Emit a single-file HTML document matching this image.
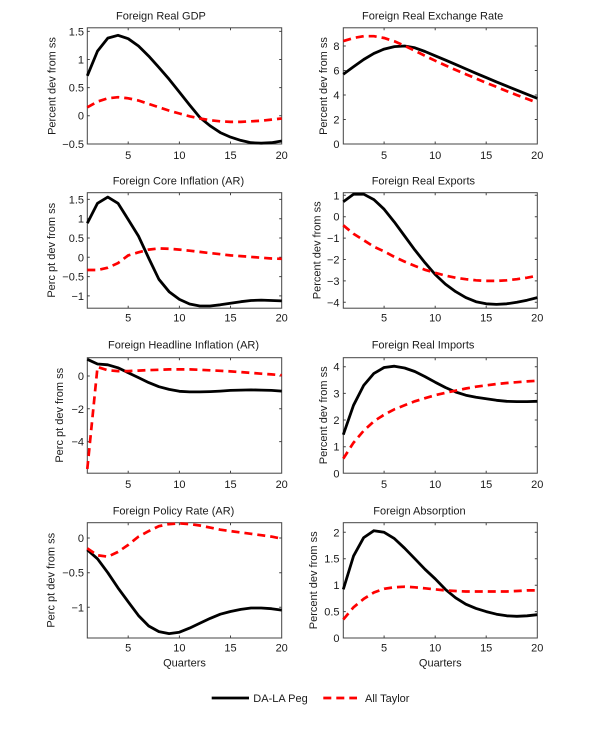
<!DOCTYPE html>
<html><head><meta charset="utf-8"><style>
html,body{margin:0;padding:0;background:#fff;}
svg{display:block;font-family:"Liberation Sans",Arial,sans-serif;}
</style></head><body>
<svg width="600" height="729" viewBox="0 0 600 729" xmlns="http://www.w3.org/2000/svg">
<rect width="600" height="729" fill="#fff"/>
<g font-size="11" fill="#1a1a1a">
<!-- Titles -->
<text x="116" y="19.5">Foreign Real GDP</text>
<text x="362" y="19.5">Foreign Real Exchange Rate</text>
<text x="112.7" y="184.7">Foreign Core Inflation (AR)</text>
<text x="371.7" y="184.7">Foreign Real Exports</text>
<text x="108" y="348.5">Foreign Headline Inflation (AR)</text>
<text x="371.7" y="348.5">Foreign Real Imports</text>
<text x="112.7" y="514.7">Foreign Policy Rate (AR)</text>
<text x="373.3" y="514.7">Foreign Absorption</text>
<!-- Y labels -->
<text transform="translate(55.5,86) rotate(-90)" text-anchor="middle">Percent dev from ss</text>
<text transform="translate(327,86) rotate(-90)" text-anchor="middle">Percent dev from ss</text>
<text transform="translate(55,250.3) rotate(-90)" text-anchor="middle">Perc pt dev from ss</text>
<text transform="translate(320.5,250.3) rotate(-90)" text-anchor="middle">Percent dev from ss</text>
<text transform="translate(63,415.3) rotate(-90)" text-anchor="middle">Perc pt dev from ss</text>
<text transform="translate(327,415.3) rotate(-90)" text-anchor="middle">Percent dev from ss</text>
<text transform="translate(54.5,580.3) rotate(-90)" text-anchor="middle">Perc pt dev from ss</text>
<text transform="translate(317,580.3) rotate(-90)" text-anchor="middle">Percent dev from ss</text>
<!-- Y tick labels -->
<g text-anchor="end">
<text x="84" y="147.8">−0.5</text><text x="84" y="119.7">0</text><text x="84" y="91.6">0.5</text><text x="84" y="63.5">1</text><text x="84" y="35.4">1.5</text>
<text x="339.5" y="148">0</text><text x="339.5" y="123.5">2</text><text x="339.5" y="99">4</text><text x="339.5" y="74.5">6</text><text x="339.5" y="50">8</text>
<text x="84" y="203.4">1.5</text><text x="84" y="222.7">1</text><text x="84" y="242">0.5</text><text x="84" y="261.3">0</text><text x="84" y="280.6">−0.5</text><text x="84" y="299.9">−1</text>
<text x="339.5" y="199.3">1</text><text x="339.5" y="220.7">0</text><text x="339.5" y="242.1">−1</text><text x="339.5" y="263.5">−2</text><text x="339.5" y="284.9">−3</text><text x="339.5" y="306.3">−4</text>
<text x="84" y="380">0</text><text x="84" y="412.8">−2</text><text x="84" y="445.6">−4</text>
<text x="339.5" y="477.3">0</text><text x="339.5" y="450.7">1</text><text x="339.5" y="424">2</text><text x="339.5" y="397.4">3</text><text x="339.5" y="370.7">4</text>
<text x="84" y="542">0</text><text x="84" y="576.7">−0.5</text><text x="84" y="611.3">−1</text>
<text x="339.5" y="642">0</text><text x="339.5" y="615.6">0.5</text><text x="339.5" y="589.2">1</text><text x="339.5" y="562.7">1.5</text><text x="339.5" y="536.3">2</text>
</g>
<!-- X tick labels -->
<g text-anchor="middle">
<text x="128.2" y="159">5</text><text x="179.4" y="159">10</text><text x="230.5" y="159">15</text><text x="281.7" y="159">20</text>
<text x="384.1" y="159">5</text><text x="435.2" y="159">10</text><text x="486.2" y="159">15</text><text x="537.3" y="159">20</text>
<text x="128.2" y="321.7">5</text><text x="179.4" y="321.7">10</text><text x="230.5" y="321.7">15</text><text x="281.7" y="321.7">20</text>
<text x="384.1" y="321.7">5</text><text x="435.2" y="321.7">10</text><text x="486.2" y="321.7">15</text><text x="537.3" y="321.7">20</text>
<text x="128.2" y="488">5</text><text x="179.4" y="488">10</text><text x="230.5" y="488">15</text><text x="281.7" y="488">20</text>
<text x="384.1" y="488">5</text><text x="435.2" y="488">10</text><text x="486.2" y="488">15</text><text x="537.3" y="488">20</text>
<text x="128.2" y="651.7">5</text><text x="179.4" y="651.7">10</text><text x="230.5" y="651.7">15</text><text x="281.7" y="651.7">20</text>
<text x="384.1" y="651.7">5</text><text x="435.2" y="651.7">10</text><text x="486.2" y="651.7">15</text><text x="537.3" y="651.7">20</text>
<text x="184.5" y="666.3">Quarters</text>
<text x="440.3" y="666.3">Quarters</text>
</g>
<!-- Legend text -->
<text x="253.3" y="702">DA-LA Peg</text>
<text x="365" y="702">All Taylor</text>
</g>

<!-- Axes boxes -->
<g fill="none" stroke="#444" stroke-width="1">
<rect x="87.3" y="27.8" width="194.4" height="116.2"/>
<rect x="343.3" y="27.8" width="194" height="116.2"/>
<rect x="87.3" y="192.7" width="194.4" height="115.5"/>
<rect x="343.3" y="192.7" width="194" height="115.5"/>
<rect x="87.3" y="357.7" width="194.4" height="115.5"/>
<rect x="343.3" y="357.7" width="194" height="115.5"/>
<rect x="87.3" y="522.7" width="194.4" height="115.3"/>
<rect x="343.3" y="522.7" width="194" height="115.3"/>
<!-- ticks -->
<path d="
M128.2 144v-2.5M179.4 144v-2.5M230.5 144v-2.5M128.2 27.8v2.5M179.4 27.8v2.5M230.5 27.8v2.5
M87.3 115.7h2.5M87.3 87.6h2.5M87.3 59.5h2.5M87.3 31.4h2.5M281.7 115.7h-2.5M281.7 87.6h-2.5M281.7 59.5h-2.5M281.7 31.4h-2.5
M384.1 144v-2.5M435.2 144v-2.5M486.2 144v-2.5M384.1 27.8v2.5M435.2 27.8v2.5M486.2 27.8v2.5
M343.3 119.5h2.5M343.3 95h2.5M343.3 70.5h2.5M343.3 46h2.5M537.3 119.5h-2.5M537.3 95h-2.5M537.3 70.5h-2.5M537.3 46h-2.5
M128.2 308.2v-2.5M179.4 308.2v-2.5M230.5 308.2v-2.5M128.2 192.7v2.5M179.4 192.7v2.5M230.5 192.7v2.5
M87.3 199.4h2.5M87.3 218.7h2.5M87.3 238h2.5M87.3 257.3h2.5M87.3 276.6h2.5M87.3 295.9h2.5
M281.7 199.4h-2.5M281.7 218.7h-2.5M281.7 238h-2.5M281.7 257.3h-2.5M281.7 276.6h-2.5M281.7 295.9h-2.5
M384.1 308.2v-2.5M435.2 308.2v-2.5M486.2 308.2v-2.5M384.1 192.7v2.5M435.2 192.7v2.5M486.2 192.7v2.5
M343.3 195.3h2.5M343.3 216.7h2.5M343.3 238.1h2.5M343.3 259.5h2.5M343.3 280.9h2.5M343.3 302.3h2.5
M537.3 195.3h-2.5M537.3 216.7h-2.5M537.3 238.1h-2.5M537.3 259.5h-2.5M537.3 280.9h-2.5M537.3 302.3h-2.5
M128.2 473.2v-2.5M179.4 473.2v-2.5M230.5 473.2v-2.5M128.2 357.7v2.5M179.4 357.7v2.5M230.5 357.7v2.5
M87.3 376h2.5M87.3 408.8h2.5M87.3 441.6h2.5M281.7 376h-2.5M281.7 408.8h-2.5M281.7 441.6h-2.5
M384.1 473.2v-2.5M435.2 473.2v-2.5M486.2 473.2v-2.5M384.1 357.7v2.5M435.2 357.7v2.5M486.2 357.7v2.5
M343.3 446.7h2.5M343.3 420h2.5M343.3 393.4h2.5M343.3 366.7h2.5M537.3 446.7h-2.5M537.3 420h-2.5M537.3 393.4h-2.5M537.3 366.7h-2.5
M128.2 638v-2.5M179.4 638v-2.5M230.5 638v-2.5M128.2 522.7v2.5M179.4 522.7v2.5M230.5 522.7v2.5
M87.3 538h2.5M87.3 572.7h2.5M87.3 607.3h2.5M281.7 538h-2.5M281.7 572.7h-2.5M281.7 607.3h-2.5
M384.1 638v-2.5M435.2 638v-2.5M486.2 638v-2.5M384.1 522.7v2.5M435.2 522.7v2.5M486.2 522.7v2.5
M343.3 611.6h2.5M343.3 585.2h2.5M343.3 558.7h2.5M343.3 532.3h2.5M537.3 611.6h-2.5M537.3 585.2h-2.5M537.3 558.7h-2.5M537.3 532.3h-2.5
"/>
</g>

<!-- Black series -->
<g fill="none" stroke="#000" stroke-width="2.8" stroke-linejoin="round">
<polyline points="87.3,75.8 97.5,51.1 107.8,38.1 118.0,35.3 128.2,38.7 138.5,46.0 148.7,56.1 158.9,67.4 169.1,79.2 179.4,92.1 189.6,105.0 199.8,117.4 210.1,125.8 220.3,132.6 230.5,137.1 240.8,140.4 251.0,142.7 261.2,143.2 271.5,142.7 281.7,141.0"/>
<polyline points="343.3,74.2 353.5,66.8 363.7,59.5 373.9,53.4 384.1,49.1 394.4,46.6 404.6,46.0 414.8,47.8 425.0,51.5 435.2,55.8 445.4,60.1 455.6,64.4 465.8,68.9 476.0,73.3 486.2,77.6 496.5,81.9 506.7,86.1 516.9,90.2 527.1,94.3 537.3,98.3"/>
<polyline points="87.3,223.3 97.5,203.3 107.8,197.1 118.0,203.3 128.2,219.5 138.5,236.1 148.7,258.1 158.9,279.3 169.1,291.7 179.4,299.4 189.6,304.0 199.8,306.0 210.1,306.0 220.3,304.8 230.5,303.2 240.8,301.7 251.0,300.5 261.2,300.1 271.5,300.5 281.7,300.9"/>
<polyline points="343.3,201.7 353.5,194.2 363.7,194.2 373.9,199.6 384.1,209.2 394.4,222.1 404.6,236.0 414.8,249.9 425.0,262.7 435.2,274.5 445.4,284.1 455.6,291.6 465.8,297.6 476.0,301.7 486.2,303.8 496.5,304.4 506.7,303.8 516.9,302.3 527.1,300.2 537.3,297.6"/>
<polyline points="87.3,359.3 97.5,364.0 107.8,364.8 118.0,367.8 128.2,372.7 138.5,377.6 148.7,382.6 158.9,386.7 169.1,389.4 179.4,391.3 189.6,391.9 199.8,391.9 210.1,391.6 220.3,391.1 230.5,390.4 240.8,390.1 251.0,389.9 261.2,390.1 271.5,390.4 281.7,391.1"/>
<polyline points="343.3,434.7 353.5,405.3 363.7,385.4 373.9,373.4 384.1,367.5 394.4,366.2 404.6,368.0 414.8,371.5 425.0,376.6 435.2,382.2 445.4,387.5 455.6,392.0 465.8,395.2 476.0,397.3 486.2,398.7 496.5,400.3 506.7,401.3 516.9,401.6 527.1,401.6 537.3,401.3"/>
<polyline points="87.3,549.8 97.5,558.8 107.8,572.7 118.0,587.9 128.2,601.8 138.5,615.6 148.7,626.0 158.9,631.6 169.1,633.6 179.4,632.2 189.6,628.1 199.8,623.2 210.1,618.4 220.3,614.2 230.5,611.5 240.8,609.4 251.0,608.0 261.2,608.0 271.5,608.7 281.7,610.1"/>
<polyline points="343.3,589.4 353.5,556.1 363.7,537.6 373.9,530.7 384.1,532.3 394.4,538.6 404.6,548.2 414.8,558.7 425.0,569.3 435.2,578.8 445.4,589.4 455.6,597.8 465.8,604.2 476.0,608.4 486.2,611.6 496.5,614.2 506.7,615.8 516.9,616.3 527.1,615.8 537.3,614.7"/>
<line x1="211.7" y1="698" x2="249" y2="698"/>
</g>

<!-- Red dashed series -->
<g fill="none" stroke="#f00" stroke-width="2.7" stroke-dasharray="8,5">
<polyline points="87.3,107.3 97.5,101.6 107.8,98.3 118.0,97.2 128.2,98.3 138.5,100.5 148.7,103.9 158.9,107.3 169.1,110.6 179.4,113.5 189.6,116.3 199.8,118.5 210.1,120.2 220.3,121.3 230.5,121.9 240.8,121.9 251.0,121.3 261.2,120.8 271.5,119.6 281.7,118.5"/>
<polyline points="343.3,41.1 353.5,38.0 363.7,36.2 373.9,36.2 384.1,38.0 394.4,41.3 404.6,45.8 414.8,50.7 425.0,55.8 435.2,60.7 445.4,65.4 455.6,69.9 465.8,74.2 476.0,78.5 486.2,82.8 496.5,86.9 506.7,91.1 516.9,95.1 527.1,98.9 537.3,102.7"/>
<polyline points="87.3,270.0 97.5,270.0 107.8,267.7 118.0,263.1 128.2,255.4 138.5,252.3 148.7,249.6 158.9,248.4 169.1,248.8 179.4,249.6 189.6,250.7 199.8,251.9 210.1,253.1 220.3,254.2 230.5,255.4 240.8,256.1 251.0,256.9 261.2,257.7 271.5,258.5 281.7,258.8"/>
<polyline points="343.3,225.3 353.5,233.8 363.7,240.2 373.9,246.7 384.1,251.4 394.4,256.9 404.6,261.6 414.8,265.9 425.0,269.8 435.2,272.8 445.4,275.6 455.6,277.7 465.8,279.2 476.0,280.3 486.2,280.9 496.5,280.9 506.7,280.3 516.9,279.2 527.1,277.7 537.3,275.8"/>
<polyline points="87.3,469.0 97.5,367.0 107.8,370.3 118.0,371.1 128.2,371.1 138.5,370.6 148.7,370.1 158.9,369.8 169.1,369.4 179.4,369.4 189.6,369.4 199.8,369.8 210.1,370.3 220.3,370.8 230.5,371.4 240.8,372.1 251.0,372.9 261.2,373.7 271.5,374.4 281.7,375.2"/>
<polyline points="343.3,458.6 353.5,442.7 363.7,430.7 373.9,421.3 384.1,414.7 394.4,409.3 404.6,405.3 414.8,401.3 425.0,398.2 435.2,395.2 445.4,392.8 455.6,390.7 465.8,388.5 476.0,386.7 486.2,385.4 496.5,384.0 506.7,383.0 516.9,382.2 527.1,381.4 537.3,380.8"/>
<polyline points="87.3,548.4 97.5,555.3 107.8,556.7 118.0,551.9 128.2,544.9 138.5,536.6 148.7,531.1 158.9,526.2 169.1,524.1 179.4,523.4 189.6,524.1 199.8,525.5 210.1,527.6 220.3,529.7 230.5,531.1 240.8,532.5 251.0,533.8 261.2,535.2 271.5,536.6 281.7,538.7"/>
<polyline points="343.3,619.5 353.5,607.3 363.7,598.9 373.9,592.5 384.1,588.8 394.4,587.3 404.6,586.7 414.8,587.3 425.0,588.3 435.2,589.4 445.4,590.4 455.6,591.0 465.8,591.5 476.0,591.5 486.2,591.5 496.5,591.5 506.7,591.5 516.9,591.0 527.1,590.4 537.3,590.4"/>
<line x1="323.3" y1="698" x2="357" y2="698"/>
</g>
</svg>
</body></html>
